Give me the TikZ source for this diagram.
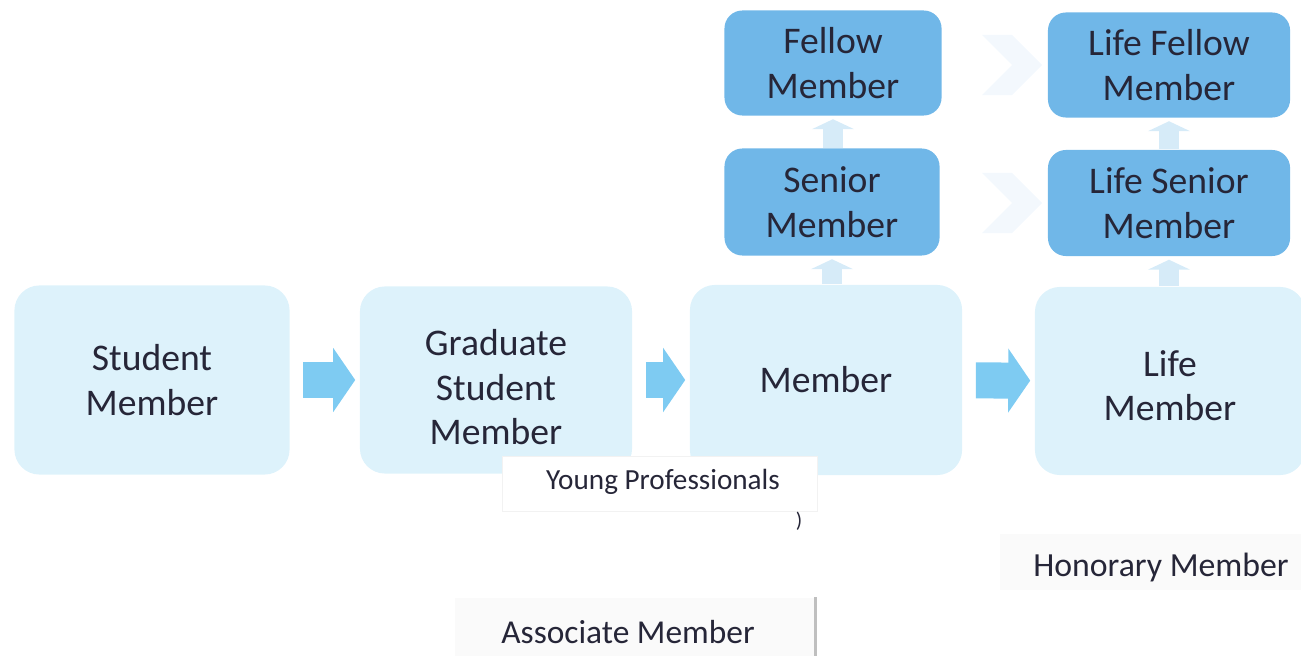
\documentclass[tikz,border=0pt]{standalone}
\usepackage{fontspec}
\setmainfont{Carlito}
\usepackage{xcolor}
\usetikzlibrary{arrows.meta,shapes.symbols}

\definecolor{boxlight}{HTML}{DDF2FB}
\definecolor{boxdark}{HTML}{70B7E8}
\definecolor{flowblue}{HTML}{7ECBF2}
\definecolor{upblue}{HTML}{D6EBF8}
\definecolor{ghostblue}{HTML}{F3F8FD}
\definecolor{txt}{HTML}{262638}

\tikzset{
  lightbox/.style={rectangle, rounded corners=0.25cm, fill=boxlight, text=txt, align=center, inner sep=0pt, font=\fontsize{10.7}{12.7}\selectfont},
  darkbox/.style={rectangle, rounded corners=0.18cm, fill=boxdark, text=txt, align=center, inner sep=0pt, font=\fontsize{10.7}{12.7}\selectfont},
  flowarrow/.style={draw=flowblue, line width=0.36cm, -{Triangle[length=0.22cm, width=0.63cm]}, shorten <=0.13cm, shorten >=0.04cm},
  uparrow/.style={draw=upblue, line width=0.2cm, -{Triangle[length=0.1cm, width=0.42cm]}, shorten >=0.03cm},
  ghostchev/.style={signal, signal from=west, signal to=east, fill=ghostblue, minimum width=0.28cm, minimum height=0.6cm, inner sep=0pt},
  notebox/.style={rectangle, text=txt, inner sep=0pt}
}

\begin{document}
\begin{tikzpicture}[x=0.01cm, y=-0.01cm]
      \useasboundingbox (0,0) rectangle (1301,655);
      \clip (0,0) rectangle (1301,655);
      % bottom row
      \node [lightbox, minimum width=2.75cm, minimum height=1.89cm] (stu) at (152, 380) {Student\\Member};
      \node [lightbox, minimum width=2.72cm, minimum height=1.87cm, text height=1.30cm] (grad) at (496, 380) {Graduate\\Student\\Member};
      \node [lightbox, minimum width=2.72cm, minimum height=1.90cm] (mem) at (826, 380) {Member};
      \node [lightbox, minimum width=2.70cm, minimum height=1.88cm, text height=0.80cm] (life) at (1170, 381) {Life\\Member};
      % upper grades
      \node [darkbox, minimum width=2.15cm, minimum height=1.07cm] (sen) at (832, 202) {Senior\\Member};
      \node [darkbox, minimum width=2.17cm, minimum height=1.05cm] (fel) at (833, 63) {Fellow\\Member};
      \node [darkbox, minimum width=2.42cm, minimum height=1.06cm] (lsen) at (1169, 203) {Life Senior\\Member};
      \node [darkbox, minimum width=2.42cm, minimum height=1.05cm] (lfel) at (1169, 65) {Life Fellow\\Member};
      % arrows
      \draw[flowarrow] (stu) -- (grad);
      \draw[flowarrow] (grad) -- (mem);
      \draw[flowarrow] (mem) -- (life);
      \draw[uparrow] (sen.south |- mem.north) -- (sen.south);
      \draw[uparrow] (fel.south |- sen.north) -- (fel.south);
      \draw[uparrow] (lsen.south |- life.north) -- (lsen.south);
      \draw[uparrow] (lfel.south |- lsen.north) -- (lfel.south);
      \node [ghostchev] (c1) at (1012, 65) {};
      \node [ghostchev] (c2) at (1012, 203) {};
      % other grades
      \node [notebox, fill=white, draw=black!5, minimum width=3.15cm, minimum height=0.55cm] (ypbox) at (660, 484) {};
      \node [notebox, font=\fontsize{8.3}{10}\selectfont] (yp) at (663, 482) {Young Professionals};
      \node [notebox, font=\fontsize{6}{7}\selectfont] (par) at (799, 521) {)};
      \node [notebox, fill=black!2, minimum width=3.05cm, minimum height=0.55cm] (honbox) at (1153, 562) {};
      \node [notebox, font=\fontsize{9.6}{11}\selectfont] (hon) at (1161, 567) {Honorary Member};
      \node [notebox, fill=black!2, minimum width=3.6cm, minimum height=0.58cm] (asbox) at (635, 627) {};
      \draw[black!25, line width=0.03cm] (asbox.north east) -- (asbox.south east);
      \node [notebox, font=\fontsize{9.5}{11}\selectfont] (asm) at (628, 632) {Associate Member};
    \end{tikzpicture}
\end{document}
